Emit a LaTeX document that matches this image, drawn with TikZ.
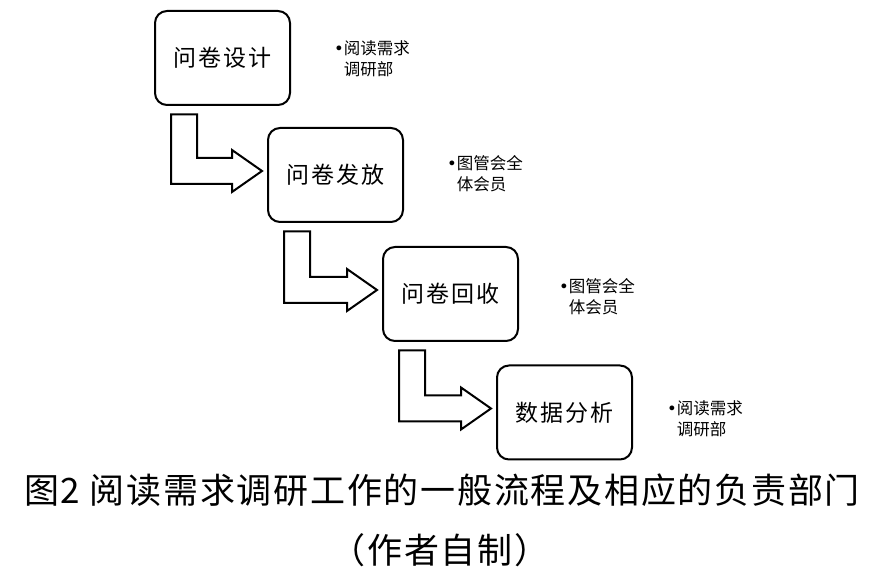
\documentclass[tikz,border=0pt]{standalone}
\usepackage{fontspec}
\setmainfont{Noto Sans CJK SC}
\newfontfamily\bulfont{DejaVu Sans}
\usetikzlibrary{calc}
\begin{document}
\begin{tikzpicture}[x=1pt,y=1pt,
  stepbox/.style={draw, line width=2pt, rounded corners=12pt, minimum width=135pt, minimum height=94pt, inner sep=0pt, font=\fontsize{23}{23}\selectfont\addfontfeature{LetterSpace=8}},
  bentarrow/.style={draw, line width=2pt, fill=white, line join=miter},
  lbl/.style={anchor=north west, align=left, inner sep=0pt, font=\fontsize{16.5}{21}\selectfont},
  captext/.style={font=\fontsize{35}{35}\selectfont\addfontfeature{LetterSpace=5}, inner sep=0pt}]
\useasboundingbox (0,0) rectangle (881,580);
\node[stepbox] (b1) at (222.5,522) {问卷设计};
\node[stepbox] (b2) at (335.5,405) {问卷发放};
\node[stepbox] (b3) at (450.5,286) {问卷回收};
\node[stepbox] (b4) at (564.5,167.5) {数据分析};
\foreach \a/\b in {b1/b2,b2/b3,b3/b4}{
  \draw[bentarrow] ($(\a.south west)+(17,-8.5)$) coordinate (s) -- ++(26,0)
    |- ($(\b.west)+(-35,17)$) -- ++(0,8) -- ($(\b.west)+(-5,4)$)
    -- ++(-30,-21) -- ++(0,8) -| (s) -- cycle;
}
\node[lbl] (l1) at (334,540) {{\bulfont •}阅读需求\\\phantom{\bulfont •}调研部};
\node[lbl] (l2) at (447,425) {{\bulfont •}图管会全\\\phantom{\bulfont •}体会员};
\node[lbl] (l3) at (559,302) {{\bulfont •}图管会全\\\phantom{\bulfont •}体会员};
\node[lbl] (l4) at (667,180) {{\bulfont •}阅读需求\\\phantom{\bulfont •}调研部};
\node[captext] (c1) at (442,90) {图2 阅读需求调研工作的一般流程及相应的负责部门};
\node[captext] (c2) at (440,30) {（作者自制）};
\end{tikzpicture}
\end{document}
